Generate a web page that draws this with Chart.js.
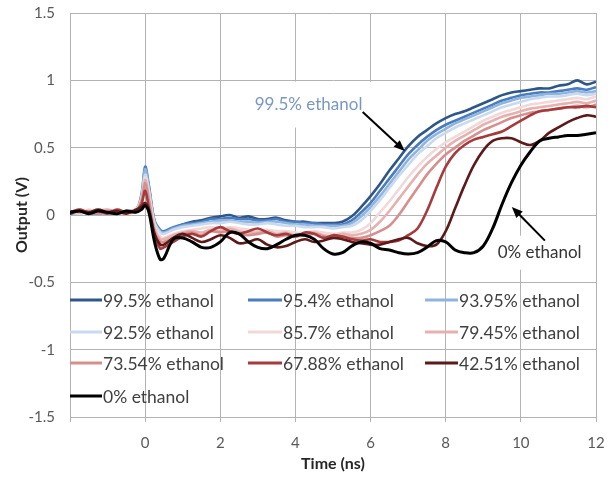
<!DOCTYPE html>
<html><head><meta charset="utf-8">
<script src="https://cdn.jsdelivr.net/npm/chart.js@4.4.1/dist/chart.umd.min.js"></script>
<style>html,body{margin:0;padding:0;background:#fff;}canvas{display:block;}</style>
</head><body>
<canvas id="c" width="613" height="477"></canvas>
<script>
// Time axis (ns)
const times = [-2,-1.75,-1.5,-1.25,-1,-0.75,-0.5,-0.25,-0.1,0,0.1,0.25,0.4,0.5,
  0.75,1,1.25,1.5,1.75,2,2.25,2.5,2.75,3,3.25,3.5,3.75,4,4.25,4.5,4.75,5,5.25,5.5,5.75,6,
  6.25,6.5,6.75,7,7.25,7.5,7.75,8,8.25,8.5,8.75,9,9.25,9.5,9.75,10,10.25,10.5,10.75,11,11.25,11.5,11.75,12];

const s995 = [0.02,0.03,0.01,0.02,0.03,0.02,0.03,0.04,0.12,0.33,0.2,-0.05,-0.12,-0.13,
  -0.1,-0.07,-0.05,-0.04,-0.02,-0.01,0.0,-0.02,-0.01,-0.03,-0.03,-0.02,-0.04,-0.05,-0.05,-0.06,-0.06,-0.06,-0.05,-0.01,0.06,0.14,0.23,0.33,0.42,0.51,0.58,0.63,0.68,0.72,0.75,0.77,0.8,0.83,0.86,0.89,0.91,0.92,0.93,0.94,0.94,0.96,0.97,1.0,0.97,0.99];
const s954 = [0.01,0.02,0.02,0.01,0.02,0.03,0.02,0.03,0.15,0.36,0.22,-0.04,-0.11,-0.12,
  -0.09,-0.07,-0.06,-0.05,-0.03,-0.03,-0.02,-0.03,-0.03,-0.04,-0.04,-0.03,-0.05,-0.05,-0.06,-0.06,-0.07,-0.07,-0.07,-0.04,0.02,0.09,0.18,0.27,0.36,0.45,0.52,0.58,0.63,0.67,0.7,0.73,0.76,0.79,0.82,0.85,0.87,0.89,0.9,0.91,0.91,0.92,0.93,0.94,0.93,0.95];
const s9395 = [0.02,0.01,0.03,0.02,0.01,0.02,0.03,0.02,0.14,0.34,0.2,-0.05,-0.12,-0.13,
  -0.1,-0.08,-0.07,-0.06,-0.05,-0.04,-0.04,-0.05,-0.05,-0.06,-0.05,-0.05,-0.06,-0.07,-0.07,-0.08,-0.08,-0.08,-0.08,-0.06,-0.01,0.06,0.14,0.23,0.32,0.41,0.48,0.55,0.6,0.64,0.68,0.71,0.74,0.77,0.8,0.83,0.85,0.87,0.88,0.89,0.9,0.9,0.91,0.92,0.91,0.92];
const s925 = [0.03,0.02,0.02,0.03,0.02,0.01,0.02,0.03,0.12,0.3,0.18,-0.06,-0.13,-0.14,
  -0.11,-0.09,-0.08,-0.07,-0.06,-0.06,-0.05,-0.06,-0.07,-0.07,-0.06,-0.07,-0.08,-0.08,-0.09,-0.09,-0.09,-0.1,-0.09,-0.08,-0.04,0.03,0.11,0.2,0.29,0.37,0.45,0.51,0.57,0.61,0.65,0.68,0.71,0.74,0.77,0.8,0.82,0.84,0.86,0.87,0.88,0.88,0.89,0.9,0.89,0.9];
const s857 = [0.03,0.01,0.04,0.02,0.03,0.01,0.03,0.04,0.12,0.28,0.15,-0.08,-0.16,-0.17,
  -0.14,-0.12,-0.11,-0.1,-0.09,-0.1,-0.09,-0.1,-0.11,-0.12,-0.11,-0.12,-0.12,-0.13,-0.13,-0.12,-0.13,-0.14,-0.13,-0.13,-0.11,-0.06,0.02,0.1,0.19,0.28,0.36,0.43,0.49,0.54,0.58,0.62,0.66,0.7,0.73,0.76,0.78,0.8,0.82,0.83,0.84,0.85,0.86,0.87,0.86,0.88];
const s7945 = [0.02,0.04,0.01,0.03,0.04,0.02,0.01,0.03,0.1,0.26,0.13,-0.1,-0.18,-0.18,
  -0.15,-0.13,-0.12,-0.13,-0.11,-0.12,-0.1,-0.12,-0.13,-0.13,-0.12,-0.14,-0.13,-0.15,-0.14,-0.13,-0.15,-0.16,-0.14,-0.15,-0.14,-0.11,-0.05,0.03,0.12,0.21,0.3,0.38,0.44,0.5,0.55,0.59,0.63,0.67,0.7,0.73,0.75,0.77,0.79,0.8,0.81,0.82,0.83,0.84,0.83,0.85];
const s7354 = [0.03,0.02,0.03,0.01,0.03,0.03,0.02,0.03,0.1,0.24,0.1,-0.12,-0.2,-0.2,
  -0.17,-0.14,-0.13,-0.15,-0.12,-0.13,-0.12,-0.14,-0.15,-0.14,-0.13,-0.16,-0.15,-0.16,-0.15,-0.14,-0.16,-0.17,-0.16,-0.17,-0.17,-0.15,-0.12,-0.08,0.0,0.1,0.2,0.3,0.38,0.45,0.5,0.55,0.59,0.63,0.66,0.69,0.72,0.74,0.76,0.77,0.78,0.79,0.8,0.81,0.8,0.82];
const s6788 = [0.02,0.04,0.02,0.03,0.01,0.04,0.02,0.03,0.08,0.18,0.05,-0.15,-0.25,-0.24,
  -0.2,-0.16,-0.14,-0.16,-0.12,-0.09,-0.12,-0.14,-0.12,-0.1,-0.13,-0.15,-0.14,-0.16,-0.13,-0.14,-0.17,-0.15,-0.16,-0.18,-0.19,-0.18,-0.2,-0.2,-0.19,-0.15,-0.1,0.03,0.2,0.36,0.46,0.52,0.56,0.58,0.6,0.62,0.66,0.7,0.74,0.77,0.78,0.79,0.8,0.8,0.81,0.8];
const s4251 = [0.01,0.03,0.02,0.04,0.02,0.03,0.01,0.04,0.06,0.09,0.04,-0.14,-0.22,-0.22,
  -0.17,-0.14,-0.17,-0.2,-0.18,-0.15,-0.17,-0.21,-0.2,-0.18,-0.22,-0.24,-0.23,-0.2,-0.18,-0.2,-0.19,-0.17,-0.18,-0.2,-0.21,-0.22,-0.22,-0.2,-0.18,-0.17,-0.21,-0.23,-0.22,-0.12,0.05,0.22,0.37,0.48,0.55,0.57,0.57,0.54,0.52,0.55,0.61,0.65,0.69,0.72,0.74,0.73];
const s0 = [0.02,0.03,0.01,0.03,0.02,0.01,0.03,0.02,0.04,0.07,0.02,-0.2,-0.33,-0.32,
  -0.18,-0.17,-0.2,-0.24,-0.24,-0.2,-0.13,-0.14,-0.2,-0.24,-0.25,-0.22,-0.18,-0.15,-0.15,-0.18,-0.25,-0.29,-0.28,-0.23,-0.2,-0.21,-0.25,-0.26,-0.28,-0.29,-0.28,-0.24,-0.19,-0.2,-0.26,-0.28,-0.28,-0.23,-0.1,0.08,0.24,0.37,0.47,0.55,0.57,0.58,0.59,0.59,0.6,0.61];

const seriesNames = ['99.5% ethanol','95.4% ethanol','93.95% ethanol','92.5% ethanol','85.7% ethanol',
  '79.45% ethanol','73.54% ethanol','67.88% ethanol','42.51% ethanol','0% ethanol'];
const seriesValues = [s995,s954,s9395,s925,s857,s7945,s7354,s6788,s4251,s0];
const seriesColors = ['#2f5689','#4a7cc0','#8fb4de','#c9daee','#f0d9d8','#e6b1ae','#d78f8d','#a63a3c','#5c1a1a','#000000'];
const xTickValues = [0,2,4,6,8,10,12];
const yTickLabels = ['-1.5','-1','-0.5','0','0.5','1','1.5'];

const FONT = 'Lato, "Open Sans", sans-serif';

const datasets = seriesValues.map((vals,i)=>({
  label: seriesNames[i],
  data: times.map((t,k)=>({x:t,y:vals[k]})),
  borderColor: seriesColors[i],
  backgroundColor: seriesColors[i],
  borderWidth: i===9 ? 3 : 2.6,
  pointRadius: 0,
  tension: 0.35,
  fill: false,
  order: 9 - i
}));

function arrow(ctx,x1,y1,x2,y2){
  const a=Math.atan2(y2-y1,x2-x1), L=11, W=4.5;
  ctx.beginPath(); ctx.moveTo(x1,y1); ctx.lineTo(x2-L*0.8*Math.cos(a), y2-L*0.8*Math.sin(a)); ctx.stroke();
  ctx.beginPath(); ctx.moveTo(x2,y2);
  ctx.lineTo(x2-L*Math.cos(a)+W*Math.sin(a), y2-L*Math.sin(a)-W*Math.cos(a));
  ctx.lineTo(x2-L*Math.cos(a)-W*Math.sin(a), y2-L*Math.sin(a)+W*Math.cos(a));
  ctx.closePath(); ctx.fill();
}

const annotations = [
  {text:'99.5% ethanol', color:'#7898c2', at:[4.35,0.82], boxW:77, boxH:23, from:[5.79,0.765], to:[6.91,0.475]},
  {text:'0% ethanol', color:'#333333', at:[10.5,-0.28], boxW:49, boxH:17, from:[10.64,-0.19], to:[9.76,0.06]}
];

const annotPlugin = {
  id:'annot',
  beforeDatasetsDraw(chart){
    const {ctx, scales:{x,y}} = chart;
    ctx.save(); ctx.fillStyle='#ffffff';
    annotations.forEach(a=>{
      const cx=x.getPixelForValue(a.at[0]), cy=y.getPixelForValue(a.at[1]);
      ctx.fillRect(cx-a.boxW, cy-a.boxH, a.boxW*2, a.boxH*2);
    });
    ctx.restore();
  },
  afterDatasetsDraw(chart){
    const {ctx, scales:{x,y}, chartArea} = chart;
    ctx.save();
    annotations.forEach(a=>{
      const cx=x.getPixelForValue(a.at[0]), cy=y.getPixelForValue(a.at[1]);
      ctx.font = '17px '+FONT; ctx.fillStyle=a.color; ctx.textAlign='center'; ctx.textBaseline='middle';
      ctx.fillText(a.text, cx, cy);
      ctx.strokeStyle='#000'; ctx.fillStyle='#000'; ctx.lineWidth=2;
      arrow(ctx, x.getPixelForValue(a.from[0]), y.getPixelForValue(a.from[1]), x.getPixelForValue(a.to[0]), y.getPixelForValue(a.to[1]));
    });
    // legend inside plot
    const rows=[287,319,350,383], colLine=[[0,32],[178,212],[355,388]];
    ctx.font='17.5px '+FONT; ctx.textAlign='left'; ctx.textBaseline='middle';
    seriesNames.forEach((n,i)=>{
      const r=Math.floor(i/3), c=i%3;
      const yy=chartArea.top+rows[r];
      const x0=chartArea.left+colLine[c][0], x1=chartArea.left+colLine[c][1];
      ctx.strokeStyle=seriesColors[i]; ctx.lineWidth=3; ctx.lineCap='butt';
      ctx.beginPath(); ctx.moveTo(x0,yy); ctx.lineTo(x1,yy); ctx.stroke();
      ctx.fillStyle='#404040'; ctx.fillText(n, x1+1, yy+1);
    });
    ctx.restore();
  }
};

new Chart(document.getElementById('c'), {
  type:'line',
  data:{datasets},
  plugins:[annotPlugin],
  options:{
    responsive:false, animation:false, devicePixelRatio:1,
    layout:{padding:{left:0,right:17,top:13,bottom:0}},
    plugins:{legend:{display:false}, tooltip:{enabled:false}},
    scales:{
      x:{type:'linear', min:-2, max:12,
        afterFit(s){ s.height=60; s.paddingLeft=0; s.paddingRight=8; },
        afterBuildTicks(s){ s.ticks=[-2].concat(xTickValues).map(v=>({value:v})); },
        ticks:{callback:(v)=> xTickValues.includes(v)? String(v):'', color:'#595959', font:{family:FONT,size:15}, padding:12, maxRotation:0, autoSkip:false},
        grid:{color:'#b3b3b3', lineWidth:1, tickLength:5, drawTicks:true},
        border:{color:'#b3b3b3'},
        title:{display:true, text:'Time (ns)', color:'#262626', font:{family:FONT,size:16,weight:'bold'}, padding:{top:0,bottom:4}}
      },
      y:{type:'linear', min:-1.5, max:1.5,
        afterFit(s){ s.width=70; s.paddingTop=8; s.paddingBottom=8; },
        afterBuildTicks(s){ s.ticks=yTickLabels.map(v=>({value:parseFloat(v)})); },
        ticks:{callback:(v)=>{const i=yTickLabels.findIndex(l=>parseFloat(l)===v); return i>=0?yTickLabels[i]:'';}, color:'#595959', font:{family:FONT,size:15}, padding:15},
        grid:{color:'#b3b3b3', lineWidth:1, drawTicks:false},
        border:{color:'#b3b3b3'},
        title:{display:true, text:'Output (V)', color:'#262626', font:{family:FONT,size:16,weight:'bold'}, padding:{top:12,bottom:0}}
      }
    }
  }
});
</script>
</body></html>
